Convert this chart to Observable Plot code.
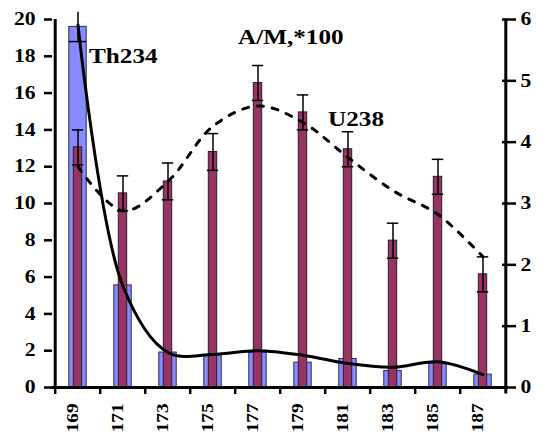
<!DOCTYPE html>
<html>
<head>
<meta charset="utf-8">
<script src="https://cdn.jsdelivr.net/npm/d3@7"></script>
<script src="https://cdn.jsdelivr.net/npm/@observablehq/plot@0.6"></script>
<style>
  html, body { margin: 0; padding: 0; background: #fff; }
  #chart svg { display: block; }
</style>
</head>
<body>
<div id="chart"></div>
<script>
// Sample depth categories along the x axis
const categories = ["169", "171", "173", "175", "177", "179", "181", "183", "185", "187"];

// Th234 bars (left axis) and their error
const th234 = [19.6, 5.55, 1.9, 1.75, 1.9, 1.35, 1.55, 0.9, 1.3, 0.7];
const th234Err = [0.8, 0, 0, 0, 0, 0, 0, 0, 0, 0];

// A/M (x100) bars and their error, in left-axis units
const am = [13.05, 10.55, 11.2, 12.8, 16.55, 14.95, 12.95, 7.98, 11.45, 6.15];
const amErr = [0.95, 0.95, 1.0, 1.0, 0.95, 0.95, 0.95, 0.95, 0.95, 0.95];

// Smoothed profiles: Th234 (solid) and U238 (dashed)
const thCurve = [19.7, 5.5, 1.9, 1.8, 2.0, 1.75, 1.3, 1.1, 1.4, 0.7];
const uCurve = [12.0, 9.6, 11.2, 14.2, 15.3, 14.4, 12.5, 10.7, 9.4, 7.1];

// Axis ticks
const leftTicks = [0, 2, 4, 6, 8, 10, 12, 14, 16, 18, 20];
const rightTicks = [0, 1, 2, 3, 4, 5, 6];
const leftMax = 20, rightMax = 6;
const axisRatio = leftMax / rightMax;

// Series names written on the chart
const seriesLabels = ["Th234", "A/M,*100", "U238"];

const rows = categories.map((c, i) => ({
  cat: c, th: th234[i], thErr: th234Err[i], am: am[i], amErr: amErr[i],
  thLine: thCurve[i], uLine: uCurve[i]
}));

const W = 537, H = 435, mL = 52, mR = 29, mT = 19, mB = 48;
const bw = (W - mL - mR) / categories.length;
const blueInset = (bw - 18) / 2;
const redInset = (bw - 9) / 2;
const capInset = (bw - 12) / 2;
const font = "'Liberation Serif', 'Times New Roman', serif";

const chart = Plot.plot({
  width: W,
  height: H,
  marginLeft: mL,
  marginRight: mR,
  marginTop: mT,
  marginBottom: mB,
  style: {fontFamily: font, fontWeight: "bold", fontSize: "18px", color: "#000", background: "#fff"},
  x: {type: "band", domain: categories, padding: 0},
  y: {domain: [0, leftMax]},
  marks: [
    // Th234 bars
    Plot.barY(rows, {x: "cat", y: "th", fill: "#8a8aff", stroke: "#2a2a55", strokeWidth: 1,
      insetLeft: blueInset, insetRight: blueInset}),
    Plot.ruleX(rows.filter(d => d.thErr > 0), {x: "cat", y1: d => d.th - d.thErr, y2: d => d.th + d.thErr,
      stroke: "#000", strokeWidth: 1.5}),
    Plot.tickY(rows.filter(d => d.thErr > 0), {x: "cat", y: d => d.th - d.thErr, stroke: "#000",
      strokeWidth: 1.5, insetLeft: blueInset, insetRight: blueInset}),

    // A/M bars with error bars
    Plot.barY(rows, {x: "cat", y: "am", fill: "#993366", stroke: "#222", strokeWidth: 1,
      insetLeft: redInset, insetRight: redInset}),
    Plot.ruleX(rows, {x: "cat", y1: d => d.am - d.amErr, y2: d => d.am + d.amErr, stroke: "#000", strokeWidth: 1.5}),
    Plot.tickY(rows, {x: "cat", y: d => d.am + d.amErr, stroke: "#000", strokeWidth: 1.5,
      insetLeft: capInset, insetRight: capInset}),
    Plot.tickY(rows, {x: "cat", y: d => d.am - d.amErr, stroke: "#000", strokeWidth: 1.5,
      insetLeft: capInset, insetRight: capInset}),

    // Smoothed profiles
    Plot.line(rows, {x: "cat", y: "thLine", stroke: "#000", strokeWidth: 3, curve: "catmull-rom"}),
    Plot.line(rows, {x: "cat", y: "uLine", stroke: "#000", strokeWidth: 3, curve: "catmull-rom",
      strokeDasharray: "6,9"}),

    // Axis lines
    Plot.ruleY([0], {stroke: "#000", strokeWidth: 3}),
    Plot.ruleX([categories[0]], {dx: -bw / 2, y1: 0, y2: leftMax, stroke: "#000", strokeWidth: 3}),
    Plot.ruleX([categories[categories.length - 1]], {dx: bw / 2, y1: -0.35, y2: leftMax, stroke: "#000", strokeWidth: 3}),

    // Left axis
    Plot.axisY({anchor: "left", ticks: leftTicks, tickSize: 8, tickPadding: 9, strokeWidth: 2.5,
      fontSize: 18, label: null, tickFormat: d => String(d)}),

    // Right axis (0–6), ticks cross the axis line
    Plot.axisY({anchor: "right", ticks: rightTicks.map(v => v * axisRatio), tickSize: 7, tickPadding: 5,
      strokeWidth: 2.5, fontSize: 18, label: null, tickFormat: d => String(Math.round(d / axisRatio))}),
    Plot.axisY({anchor: "right", ticks: rightTicks.map(v => v * axisRatio), tickSize: 7, dx: -7,
      strokeWidth: 2.5, label: null, tickFormat: () => ""}),

    // Bottom axis: ticks between categories, rotated labels
    Plot.axisX({ticks: categories, tickSize: 7, dx: -bw / 2, strokeWidth: 2.5, label: null, tickFormat: () => ""}),
    Plot.axisX({ticks: categories, tickSize: 0, tickPadding: 16, tickRotate: -90, fontSize: 16, dx: -5, label: null}),

    // Series labels
    Plot.text([seriesLabels[0]], {x: () => categories[0], y: () => 18.0, text: d => d, dx: 11,
      textAnchor: "start", fontSize: 21, fontWeight: "bold"}),
    Plot.text([seriesLabels[1]], {x: () => categories[3], y: () => 19.03, text: d => d, dx: 25,
      textAnchor: "start", fontSize: 21, fontWeight: "bold"}),
    Plot.text([seriesLabels[2]], {x: () => categories[5], y: () => 14.6, text: d => d, dx: 25,
      textAnchor: "start", fontSize: 21, fontWeight: "bold"})
  ]
});

// The lettering is wide: stretch every label along its own baseline
d3.select(chart).selectAll("text").each(function () {
  const t = this.getAttribute("transform") || "";
  this.setAttribute("transform", (t + " scale(1.2,1)").trim());
});

document.getElementById("chart").appendChild(chart);
</script>
</body>
</html>
